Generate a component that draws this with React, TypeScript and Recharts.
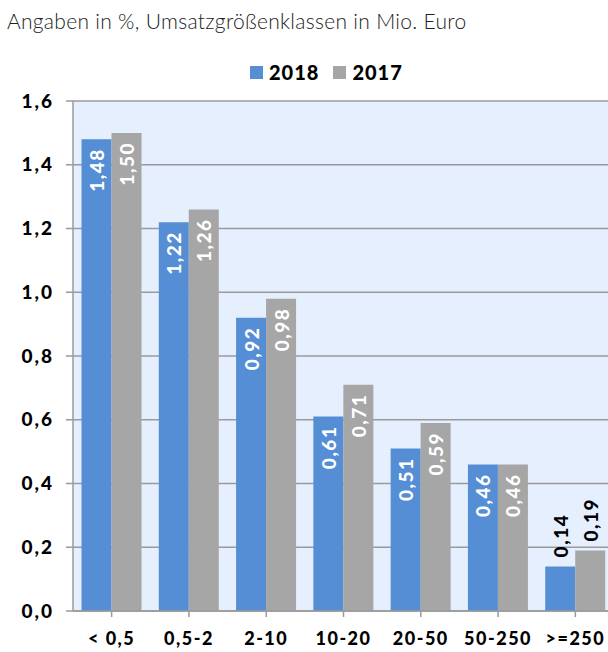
import { BarChart, Bar, XAxis, YAxis, CartesianGrid, LabelList } from "recharts";

const categories = ["< 0,5", "0,5-2", "2-10", "10-20", "20-50", "50-250", ">=250"];
const values2018 = [1.48, 1.22, 0.92, 0.61, 0.51, 0.46, 0.14];
const values2017 = [1.5, 1.26, 0.98, 0.71, 0.59, 0.46, 0.19];
const yTicks = [0, 0.2, 0.4, 0.6, 0.8, 1.0, 1.2, 1.4, 1.6];

const data = categories.map((name, i) => ({
  name,
  y2018: values2018[i],
  y2017: values2017[i],
}));

const BLUE = "#558ed5";
const GREY = "#a6a6a6";
const FONT = "Lato, 'Open Sans', sans-serif";

const fmt = (v: number, d: number) => v.toFixed(d).replace(".", ",");

const BarLabel = (props: any) => {
  const { x, y, width, value } = props;
  const cx = x + width / 2;
  const inside = value >= 0.3;
  const ty = inside ? y + 9 : y - 9;
  return (
    <text
      x={cx}
      y={ty}
      transform={`rotate(-90, ${cx}, ${ty})`}
      textAnchor={inside ? "end" : "start"}
      dominantBaseline="central"
      fill={inside ? "#ffffff" : "#000000"}
      fontSize={19}
      fontWeight={900}
      letterSpacing={1.5}
      fontFamily={FONT}
    >
      {fmt(value, 2)}
    </text>
  );
};

const Square = ({ color }: { color: string }) => (
  <span style={{ width: 13, height: 13, background: color, display: "inline-block", marginRight: 6 }} />
);

export default function App() {
  return (
    <div style={{ position: "absolute", left: 0, top: 0, width: 608, height: 652, overflow: "hidden", background: "#fff" }}>
      <div
        style={{
          position: "absolute",
          left: 7,
          top: 8,
          fontFamily: FONT,
          fontSize: 21,
          fontWeight: 300,
          letterSpacing: 0.3,
          color: "#222",
          whiteSpace: "nowrap",
        }}
      >
        Angaben in %, Umsatzgrößenklassen in Mio. Euro
      </div>
      <div
        style={{
          position: "absolute",
          left: 250,
          top: 60,
          display: "flex",
          alignItems: "center",
          fontFamily: FONT,
          fontWeight: 900,
          fontSize: 20,
          letterSpacing: 1,
          color: "#000",
        }}
      >
        <Square color={BLUE} />
        <span style={{ marginRight: 14 }}>2018</span>
        <Square color={GREY} />
        <span>2017</span>
      </div>
      <div style={{ position: "absolute", left: 0, top: 0 }}>
        <BarChart
          width={620}
          height={652}
          data={data}
          margin={{ top: 101, right: 6, bottom: 0, left: 0 }}
          barCategoryGap="11%"
          barGap={0}
        >
          <CartesianGrid vertical={false} stroke="#9a9a9a" strokeWidth={1.5} fill="#e6effe" />
          <XAxis
            dataKey="name"
            height={41}
            stroke="#9a9a9a"
            strokeWidth={1.5}
            tickSize={6}
            tickMargin={15}
            tick={{ fill: "#000", fontSize: 18, fontWeight: 900, letterSpacing: 1.5, fontFamily: FONT }}
            interval={0}
          />
          <YAxis
            width={73}
            domain={[0, 1.6]}
            ticks={yTicks}
            stroke="#9a9a9a"
            strokeWidth={1.5}
            tickSize={7}
            tickMargin={12}
            tickFormatter={(v: number) => fmt(v, 1)}
            tick={{ fill: "#000", fontSize: 19, fontWeight: 900, letterSpacing: 2, fontFamily: FONT }}
          />
          <Bar dataKey="y2018" name="2018" fill={BLUE} isAnimationActive={false}>
            <LabelList dataKey="y2018" content={<BarLabel />} />
          </Bar>
          <Bar dataKey="y2017" name="2017" fill={GREY} isAnimationActive={false}>
            <LabelList dataKey="y2017" content={<BarLabel />} />
          </Bar>
        </BarChart>
      </div>
    </div>
  );
}
